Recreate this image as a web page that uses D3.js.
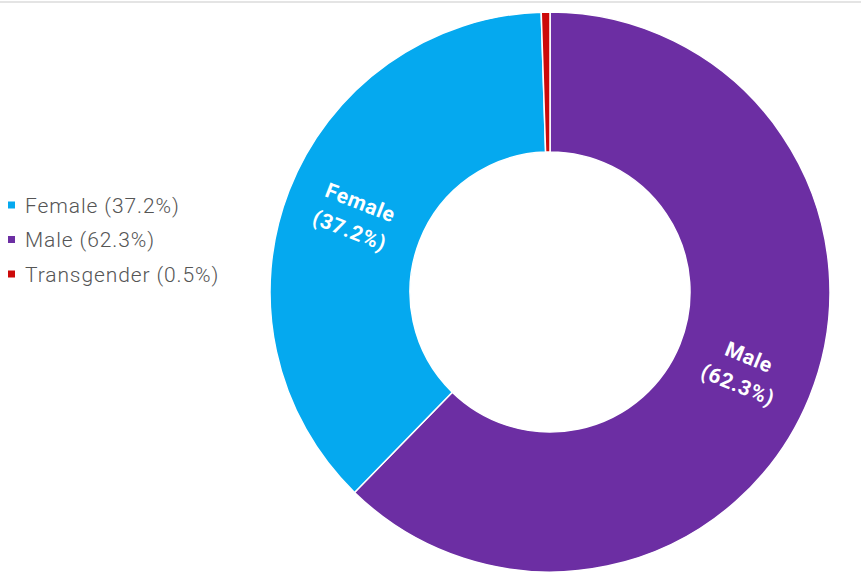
<!DOCTYPE html>
<html>
<head>
<meta charset="utf-8">
<script src="https://cdn.jsdelivr.net/npm/d3@7"></script>
<style>
  html, body { margin: 0; padding: 0; background: #fff; }
  svg { display: block; font-family: Roboto, "Noto Sans", sans-serif; }
</style>
</head>
<body>
<svg id="chart" width="861" height="574"></svg>
<script>
// Gender split of respondents
const categories = ["Male", "Female", "Transgender"];
const shares = [62.3, 37.2, 0.5];
const colors = ["#6c2ea3", "#05a9ef", "#cc0a0a"];
const legendOrder = ["Female", "Male", "Transgender"];

const svg = d3.select("#chart");
const W = 861, H = 574;

// thin rule across the top
svg.append("rect").attr("x", 0).attr("y", 1).attr("width", W).attr("height", 2)
  .attr("fill", "#e4e4e4");

const cx = 550, cy = 292, outerR = 280, innerR = 140;
const data = categories.map((c, i) => ({ name: c, value: shares[i], color: colors[i] }));

const pie = d3.pie().value(d => d.value).sort(null);
const arc = d3.arc().innerRadius(innerR).outerRadius(outerR);
const arcs = pie(data);

const g = svg.append("g").attr("transform", `translate(${cx},${cy})`);
g.selectAll("path.slice").data(arcs).join("path")
  .attr("class", "slice")
  .attr("d", arc)
  .attr("fill", d => d.data.color)
  .attr("stroke", "#fff")
  .attr("stroke-width", 1.5);

// rotated labels inside the large slices
const labelR = 209, lineGap = 30, labelSize = 21;
arcs.filter(a => a.data.value > 5).forEach(a => {
  const mid = (a.startAngle + a.endAngle) / 2;
  const deg = mid * 180 / Math.PI;
  const x = labelR * Math.sin(mid), y = -labelR * Math.cos(mid);
  const rot = deg < 180 ? deg - 90 : deg - 270;
  const t = g.append("text")
    .attr("transform", `translate(${x},${y}) rotate(${rot})`)
    .attr("text-anchor", "middle")
    .attr("fill", "#fff")
    .attr("font-weight", "bold")
    .attr("font-size", labelSize)
    .attr("letter-spacing", 0.7);
  t.append("tspan").attr("x", 0).attr("y", -lineGap / 2 + labelSize * 0.36).text(a.data.name);
  t.append("tspan").attr("x", 0).attr("y", lineGap / 2 + labelSize * 0.36).text(`(${a.data.value}%)`);
});

// legend
const leg = svg.append("g").attr("transform", "translate(8,205)");
legendOrder.forEach((name, i) => {
  const d = data.find(e => e.name === name);
  const row = leg.append("g").attr("transform", `translate(0,${i * 34.5})`);
  row.append("rect").attr("x", 0).attr("y", -3.5).attr("width", 7).attr("height", 7)
    .attr("fill", d.color);
  row.append("text").attr("x", 17).attr("y", 0).attr("dy", "0.36em")
    .attr("font-size", 21).attr("font-weight", 300).attr("letter-spacing", 0.9)
    .attr("fill", "#555")
    .text(`${d.name} (${d.value}%)`);
});
</script>
</body>
</html>
